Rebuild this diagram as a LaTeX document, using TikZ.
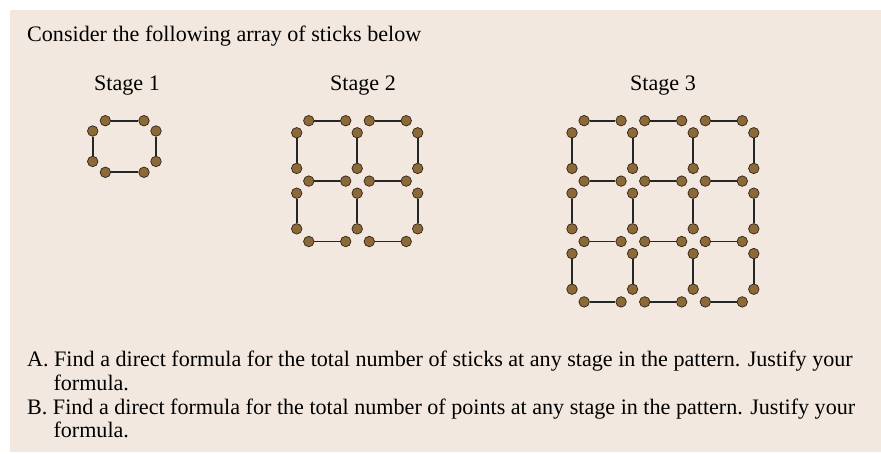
\documentclass[tikz,border=0pt]{standalone}
\usepackage{fontspec}
\setmainfont{Liberation Serif}
\definecolor{paper}{HTML}{F2E8DF}
\definecolor{knob}{HTML}{8C6A38}
\definecolor{knobline}{HTML}{2E2418}

\begin{document}
\begin{tikzpicture}[x=1pt, y=1pt, yscale=-1,
  dot/.style={circle, fill=knob, draw=knobline, line width=0.7pt, inner sep=0pt, minimum size=10.5pt},
  stick/.style={draw=black!85, line width=1.9pt},
  txt/.style={font=\fontsize{22.1}{24}\selectfont, inner sep=0pt}]
\useasboundingbox (0,0) rectangle (881,453);
\fill[paper] (10,10) rectangle (881,452);
\node[txt, anchor=base west] (intro) at (27,41) {Consider the following array of sticks below};
\node[txt, anchor=base] (lab1) at (127,90.7) {Stage 1};
\node[txt, anchor=base] (lab2) at (363,90.7) {Stage 2};
\node[txt, anchor=base] (lab3) at (663,90.7) {Stage 3};
\foreach \st/\n/\xo/\px/\py in {1/1/92.7/63.3/51.6, 2/2/296.7/60.5/60.4, 3/3/572/60.6/60.4} {
  \pgfmathtruncatemacro\m{\n-1}
  \foreach \row in {0,...,\n} \foreach \col in {0,...,\m} {
    \node[dot] (s\st h\row\col a) at ({\xo+(\col+0.2)*\px}, {120.7+\row*\py}) {};
    \node[dot] (s\st h\row\col b) at ({\xo+(\col+0.81)*\px}, {120.7+\row*\py}) {};
    \draw[stick] (s\st h\row\col a) -- (s\st h\row\col b);
  }
  \foreach \col in {0,...,\n} \foreach \row in {0,...,\m} {
    \node[dot] (s\st v\row\col a) at ({\xo+\col*\px}, {120.7+(\row+0.2)*\py}) {};
    \node[dot] (s\st v\row\col b) at ({\xo+\col*\px}, {120.7+(\row+0.79)*\py}) {};
    \draw[stick] (s\st v\row\col a) -- (s\st v\row\col b);
  }
}
\node[txt, anchor=base west] (qa) at (27,366.7) {A. Find a direct formula for the total number of sticks at any stage in the pattern. Justify your};
\node[txt, anchor=base west] (qa2) at (53.3,390.5) {formula.};
\node[txt, anchor=base west] (qb) at (27,414) {B. Find a direct formula for the total number of points at any stage in the pattern. Justify your};
\node[txt, anchor=base west] (qb2) at (53.3,437.5) {formula.};
\end{tikzpicture}
\end{document}
